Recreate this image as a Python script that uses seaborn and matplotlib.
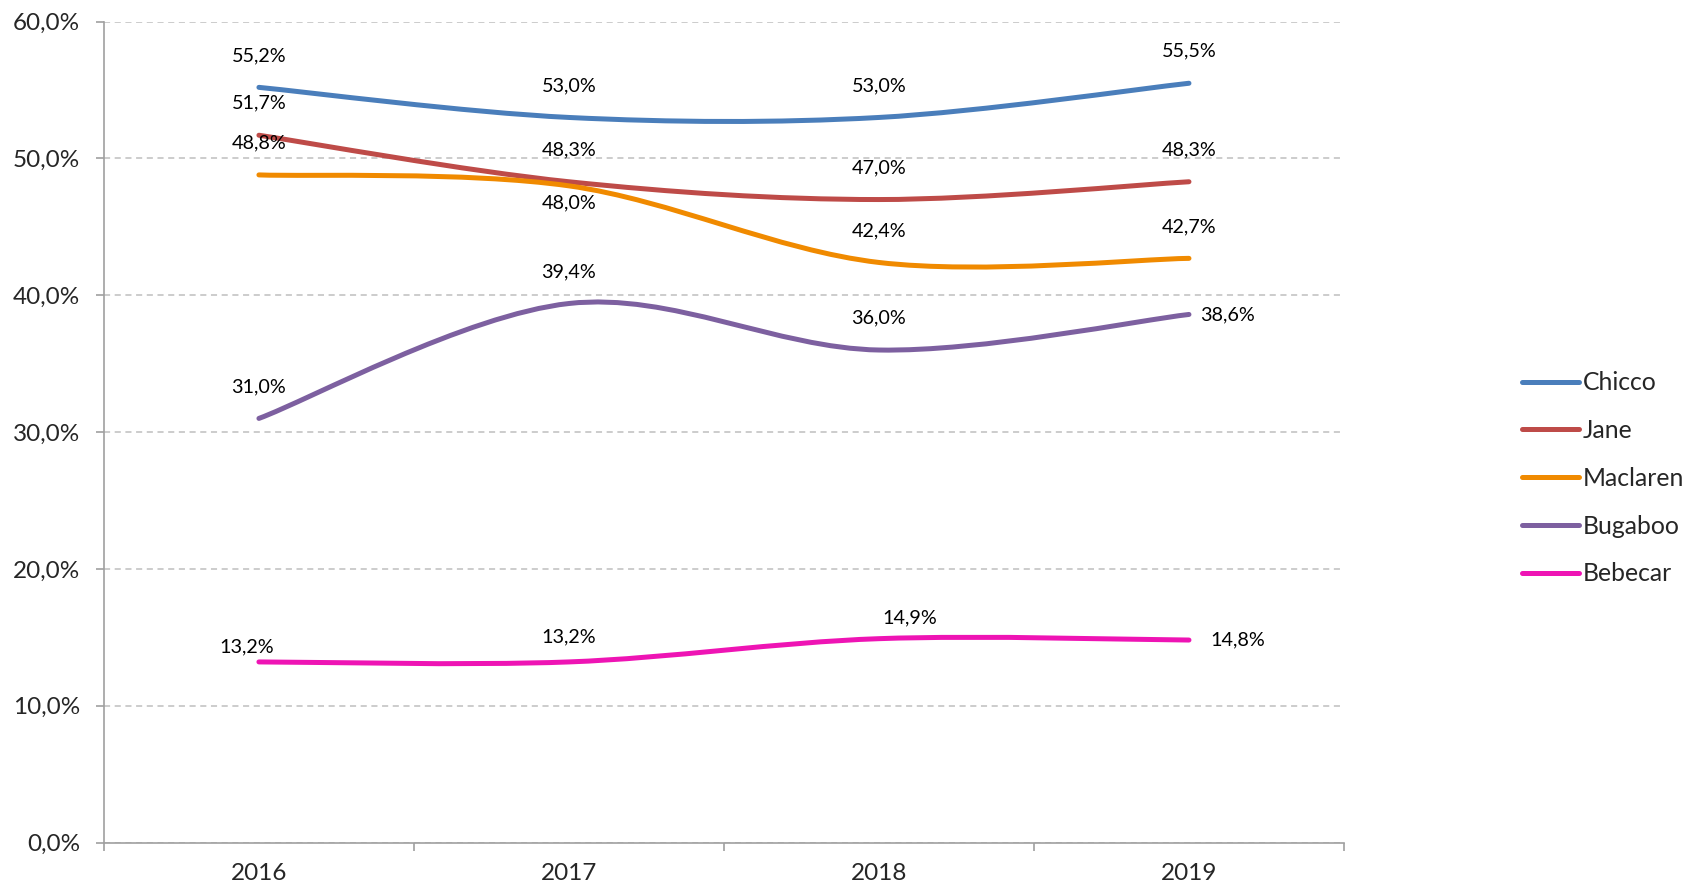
import matplotlib
matplotlib.use("Agg")
import matplotlib.pyplot as plt
import numpy as np
import seaborn as sns
from matplotlib.path import Path
from matplotlib.patches import PathPatch
from matplotlib.lines import Line2D
from matplotlib.ticker import FuncFormatter

# data (percent)
years = ["2016", "2017", "2018", "2019"]
brands = ["Chicco", "Jane", "Maclaren", "Bugaboo", "Bebecar"]
chicco = [55.2, 53.0, 53.0, 55.5]
jane = [51.7, 48.3, 47.0, 48.3]
maclaren = [48.8, 48.0, 42.4, 42.7]
bugaboo = [31.0, 39.4, 36.0, 38.6]
bebecar = [13.2, 13.2, 14.9, 14.8]
series = [chicco, jane, maclaren, bugaboo, bebecar]
y_ticks = [0, 10, 20, 30, 40, 50, 60]

colors = ["#4A7EBB", "#BE4B48", "#F08A00", "#7D60A0", "#EE14B4"]

# label offsets in points (default: straight above the point)
label_offsets = {
    ("Maclaren", 1): (0, -12),
    ("Bugaboo", 3): (28, 0),
    ("Bebecar", 0): (-9, 11),
    ("Bebecar", 1): (0, 18),
    ("Bebecar", 2): (22, 15),
    ("Bebecar", 3): (35, 0),
}

sns.set_theme(style="white")
plt.rcParams["font.family"] = ["Lato", "DejaVu Sans"]


def smooth_path(xs, ys):
    # Excel style smoothed line: cubic bezier through the points
    pts = np.column_stack([xs, ys]).astype(float)
    ext = np.vstack([pts[0], pts, pts[-1]])
    verts = [pts[0]]
    codes = [Path.MOVETO]
    for i in range(len(pts) - 1):
        p0, p1, p2, p3 = ext[i], ext[i + 1], ext[i + 2], ext[i + 3]
        verts += [p1 + (p2 - p0) / 6, p2 - (p3 - p1) / 6, p2]
        codes += [Path.CURVE4] * 3
    return Path(verts, codes)


fig = plt.figure(figsize=(16.98, 8.89), dpi=100)
ax = fig.add_axes([0.0612, 0.0523, 0.7303, 0.9233])

x = np.arange(len(years))
handles = []
for name, vals, col in zip(brands, series, colors):
    patch = PathPatch(smooth_path(x, vals), facecolor="none", edgecolor=col,
                      lw=3.6, capstyle="round", joinstyle="round", zorder=3)
    ax.add_patch(patch)
    handles.append(Line2D([0], [0], color=col, lw=3.6, solid_capstyle="round"))
    for i, v in enumerate(vals):
        dx, dy = label_offsets.get((name, i), (0, 23))
        ax.annotate(f"{v:.1f}%".replace(".", ","), (x[i], v),
                    xytext=(dx, dy), textcoords="offset points",
                    ha="center", va="center", fontsize=14.2, color="black",
                    zorder=4)

ax.set_xlim(-0.5, len(years) - 0.5)
ax.set_ylim(0, 60)
ax.set_yticks(y_ticks)
ax.yaxis.set_major_formatter(FuncFormatter(lambda v, p: f"{v:.1f}%".replace(".", ",")))
ax.set_xticks(x)
ax.set_xticklabels(years)
ax.set_xticks(np.arange(-0.5, len(years)), minor=True)

ax.grid(axis="y", color="#BFBFBF", linestyle=(0, (4, 3)), lw=1.1)
ax.set_axisbelow(True)
sns.despine(ax=ax)
for s in ["left", "bottom"]:
    ax.spines[s].set_color("#A0A0A0")
    ax.spines[s].set_linewidth(1.2)

ax.tick_params(axis="y", which="major", length=6, width=1.2, color="#A0A0A0",
               labelsize=17.5, pad=11, left=True)
ax.tick_params(axis="x", which="major", length=0, labelsize=17.5, pad=15)
ax.tick_params(axis="x", which="minor", length=6, width=1.2, color="#A0A0A0",
               bottom=True)

fig.legend(handles, brands, loc="center left", bbox_to_anchor=(0.889, 0.462),
           frameon=False, fontsize=17.8, handlelength=2.3, handletextpad=0.15,
           labelspacing=1.0, borderpad=0)

fig.savefig("out.png", dpi=100)
